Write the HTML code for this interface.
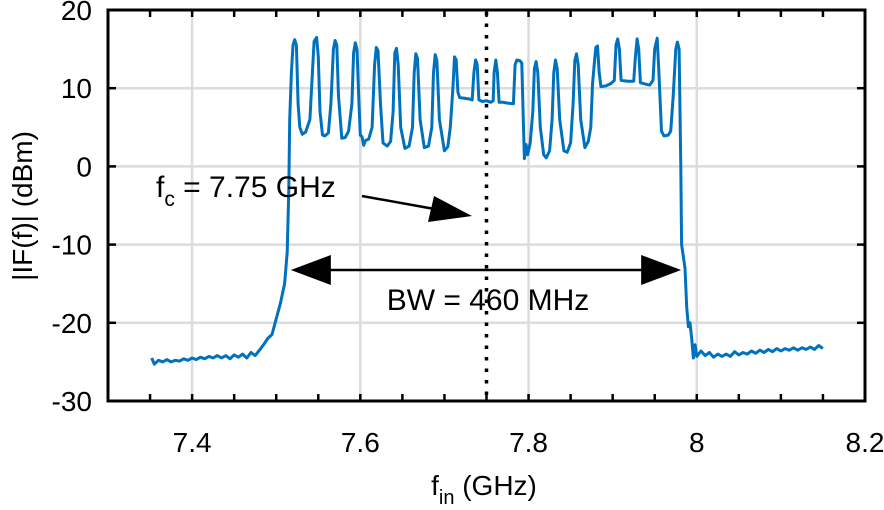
<!DOCTYPE html>
<html><head><meta charset="utf-8">
<style>
html,body{margin:0;padding:0;background:#fff;}
svg{display:block;font-family:"Liberation Sans",Arial,sans-serif;}
</style></head>
<body>
<svg id="chart" width="884" height="510" viewBox="0 0 884 510" xmlns="http://www.w3.org/2000/svg">
  <g id="grid"></g>
  <g id="plot"></g>
  <g id="axes"></g>
  <text transform="translate(32,206) rotate(-90)" text-anchor="middle" font-size="28">|IF(f)| (dBm)</text>
  <text x="484" y="495" text-anchor="middle" font-size="28">f<tspan font-size="20" dy="9">in</tspan><tspan dy="-9"> (GHz)</tspan></text>
</svg>
<script>
const xTicks=[7.4,7.6,7.8,8,8.2];
const xTickLabels=["7.4","7.6","7.8","8","8.2"];
const yTicks=[-30,-20,-10,0,10,20];
const yTickLabels=["-30","-20","-10","0","10","20"];
const centerFreq=7.75;
const bwStart=7.515, bwEnd=7.985;
const freqs=[7.352,7.355,7.36,7.365,7.37,7.375,7.38,7.385,7.39,7.395,7.40,7.405,7.41,7.415,7.42,7.425,7.43,7.435,7.44,7.445,7.45,7.455,7.46,7.465,7.47,7.475,7.48,7.485,7.49,7.495,7.50,7.505,7.51,7.513,7.515,7.516,7.518,7.520,7.522,7.524,7.526,7.528,7.531,7.535,7.540,7.543,7.545,7.548,7.550,7.552,7.555,7.558,7.562,7.565,7.568,7.570,7.572,7.574,7.578,7.582,7.586,7.590,7.592,7.594,7.596,7.598,7.600,7.602,7.604,7.606,7.610,7.614,7.617,7.619,7.621,7.624,7.627,7.632,7.636,7.639,7.641,7.643,7.645,7.648,7.653,7.658,7.662,7.664,7.666,7.668,7.671,7.676,7.681,7.685,7.687,7.689,7.691,7.694,7.700,7.704,7.707,7.710,7.712,7.714,7.716,7.718,7.725,7.730,7.733,7.735,7.737,7.739,7.741,7.745,7.750,7.755,7.758,7.759,7.761,7.763,7.765,7.770,7.775,7.782,7.784,7.786,7.790,7.792,7.794,7.795,7.797,7.799,7.802,7.805,7.807,7.809,7.811,7.814,7.818,7.821,7.825,7.828,7.830,7.832,7.834,7.837,7.842,7.846,7.850,7.853,7.855,7.857,7.859,7.862,7.867,7.871,7.874,7.876,7.878,7.880,7.882,7.884,7.886,7.892,7.898,7.902,7.904,7.906,7.908,7.910,7.918,7.925,7.927,7.929,7.931,7.933,7.940,7.944,7.948,7.950,7.953,7.955,7.958,7.961,7.966,7.969,7.972,7.975,7.977,7.979,7.981,7.982,7.984,7.986,7.988,7.990,7.992,7.994,7.996,7.998,8.000,8.005,8.010,8.015,8.02,8.025,8.03,8.035,8.04,8.045,8.05,8.055,8.06,8.065,8.07,8.075,8.08,8.085,8.09,8.095,8.10,8.105,8.11,8.115,8.12,8.125,8.13,8.135,8.14,8.145,8.15];
const levels=[-24.5,-25.3,-24.8,-25.0,-24.7,-25.0,-24.8,-24.9,-24.6,-24.8,-24.5,-24.7,-24.4,-24.6,-24.3,-24.5,-24.2,-24.5,-24.2,-24.6,-24.1,-24.4,-24.0,-24.5,-23.8,-24.2,-23.5,-22.8,-22.0,-21.5,-19.5,-17.5,-15.0,-11,-3,6,12,15.5,16.2,15.5,8,5,4.1,4.4,6,12,16,16.5,14,7,4,3.9,4.3,8,15,16.1,15.5,9,3.6,3.7,4.5,8,14.5,15.8,15,9,4,3.8,2.7,3.3,3.5,5,13,15.2,14.8,8,3,2.6,3.2,7,14.5,15.1,13,5,2.3,2.6,5,12,14.4,13.8,6,2.4,2.6,5,12,14.3,13.5,6,2.0,2.5,5,10,14.0,13.6,9.5,8.8,8.7,8.6,8.5,12,13.6,13,8.5,8.3,8.4,8.2,8.4,12,13.6,12,8.2,8.2,8.1,8.0,13,13.6,13.5,13.2,5,1.0,2.8,1.5,3.0,7,12.5,13.4,12,5,1.5,1.1,2,6,12,13.6,12.5,6,2.0,1.8,3,8,13.5,14.4,13,6,2.4,3.2,5,10.5,13,15.2,15.4,12,10.2,10.3,10.6,11,15.5,16.3,15,11,10.9,10.9,14,16.3,15,10.7,10.5,10.4,11,15,16.4,12,4.5,3.9,4.0,4.5,9,15,15.9,15,0,-10,-11.5,-13,-18,-20.5,-20,-22,-24.5,-22.8,-24.3,-23.6,-24.2,-23.8,-24.4,-24.0,-24.3,-24.0,-24.3,-23.7,-24.1,-23.8,-24.0,-23.6,-23.9,-23.5,-23.8,-23.4,-23.7,-23.3,-23.6,-23.3,-23.5,-23.2,-23.5,-23.2,-23.4,-23.1,-23.4,-22.9,-23.3];

const NS="http://www.w3.org/2000/svg";
const L=108,R=865,T=10,B=401, X0=7.3,X1=8.2,Y0=-30,Y1=20;
const xs=v=>L+(v-X0)/(X1-X0)*(R-L);
const ys=v=>B-(v-Y0)/(Y1-Y0)*(B-T);
function mk(tag,attrs,parent){const e=document.createElementNS(NS,tag);for(const k in attrs)e.setAttribute(k,attrs[k]);parent.appendChild(e);return e;}
const grid=document.getElementById('grid'),plot=document.getElementById('plot'),axes=document.getElementById('axes');

xTicks.forEach((t,i)=>{
  const g=mk('line',{x1:xs(t),x2:xs(t),y1:T,y2:B,stroke:'#dcdcdc','stroke-width':2.5},grid);
  
  
  const lb=mk('text',{x:xs(t),y:B+51,'text-anchor':'middle','font-size':28},axes);
  lb.textContent=xTickLabels[i];
  
  
});
for(let v=7.35;v<8.2;v+=0.05){
  const tk=mk('line',{x1:xs(v),x2:xs(v),y1:B,y2:B-7,stroke:'#000','stroke-width':2.5},axes);
  
  
  mk('line',{x1:xs(v),x2:xs(v),y1:T,y2:T+7,stroke:'#000','stroke-width':2.5},axes);
}
yTicks.forEach((t,i)=>{
  const g=mk('line',{x1:L,x2:R,y1:ys(t),y2:ys(t),stroke:'#dcdcdc','stroke-width':2.5},grid);
  
  
  mk('line',{x1:L,x2:L+8,y1:ys(t),y2:ys(t),stroke:'#000','stroke-width':2.5},axes);
  mk('line',{x1:R-8,x2:R,y1:ys(t),y2:ys(t),stroke:'#000','stroke-width':2.5},axes);
  const lb=mk('text',{x:L-16,y:ys(t)+10,'text-anchor':'end','font-size':28},axes);
  lb.textContent=yTickLabels[i];
  
  
});
const fr=mk('rect',{x:L,y:T,width:R-L,height:B-T,fill:'none',stroke:'#000','stroke-width':3},axes);



const dl=mk('line',{x1:xs(centerFreq),x2:xs(centerFreq),y1:T+2,y2:B-2,stroke:'#000','stroke-width':3.5,'stroke-dasharray':'3.5 8'},plot);



let d='';
freqs.forEach((f,i)=>{d+=(i?'L':'M')+xs(f).toFixed(1)+','+ys(levels[i]).toFixed(1);});
const ln=mk('path',{d:d,fill:'none',stroke:'#0072BD','stroke-width':3,'stroke-linejoin':'round'},plot);



const ax1=xs(bwStart)+2, ax2=xs(bwEnd)-3, ay=270;
const ab=mk('g',{},plot);


mk('line',{x1:ax1+30,x2:ax2-30,y1:ay,y2:ay,stroke:'#000','stroke-width':2.5},ab);
mk('polygon',{points:`${ax1},${ay} ${ax1+40},${ay-15} ${ax1+40},${ay+15}`,fill:'#000'},ab);
mk('polygon',{points:`${ax2},${ay} ${ax2-40},${ay-15} ${ax2-40},${ay+15}`,fill:'#000'},ab);
const bt=mk('text',{x:488,y:310,'text-anchor':'middle','font-size':30},plot);
bt.textContent='BW = 460 MHz';



const fa=mk('g',{},plot);


mk('line',{x1:362,y1:196,x2:440,y2:210,stroke:'#000','stroke-width':2.5},fa);
mk('polygon',{points:'472,216 434,196 428,222',fill:'#000'},fa);
const ft=mk('text',{x:156,y:197,'font-size':30},plot);
ft.innerHTML='f<tspan font-size="21" dy="9">c</tspan><tspan dy="-9"> = 7.75 GHz</tspan>';


</script>
</body></html>
